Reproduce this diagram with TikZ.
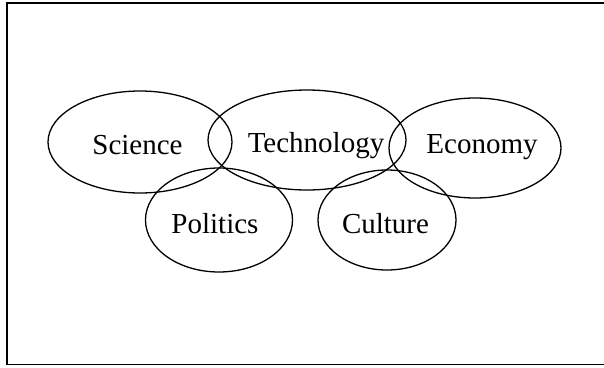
\documentclass[tikz,border=0pt]{standalone}
\usepackage{fontspec}
\setmainfont{Liberation Serif}
\usetikzlibrary{shapes.geometric}

\begin{document}
\begin{tikzpicture}[
x=1pt, y=-1pt,
ringnode/.style={ellipse, draw, line width=1.3pt, inner sep=0pt},
namenode/.style={anchor=base, inner sep=0pt, font=\fontsize{29}{34}\selectfont},
framebox/.style={draw, line width=1.5pt}]
\useasboundingbox (0,0) rectangle (604,367);
% Frame
\draw[framebox] (7,3) rectangle (610,364.5);
% Rings
\node[ringnode, minimum width=184pt, minimum height=102pt] (sci) at (140,142) {};
\node[ringnode, minimum width=198pt, minimum height=100pt] (tech) at (307,140) {};
\node[ringnode, minimum width=172pt, minimum height=100pt] (econ) at (475,148) {};
\node[ringnode, minimum width=147pt, minimum height=104pt] (pol) at (219,220) {};
\node[ringnode, minimum width=138pt, minimum height=100pt] (cult) at (387,220) {};
% Names
\node[namenode] (scitext) at (137.5,154) {Science};
\node[namenode] (techtext) at (316,152) {Technology};
\node[namenode] (econtext) at (482,153) {Economy};
\node[namenode] (poltext) at (215,233) {Politics};
\node[namenode] (culttext) at (385.5,233) {Culture};
\end{tikzpicture}
\end{document}
